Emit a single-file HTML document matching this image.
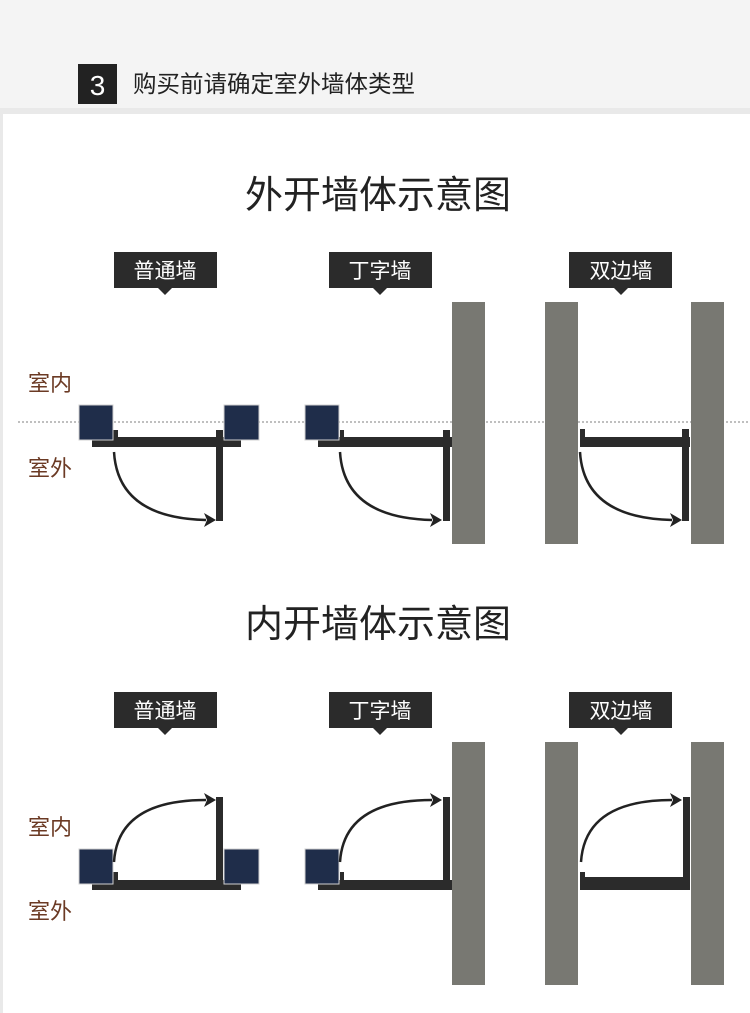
<!DOCTYPE html>
<html><head><meta charset="utf-8"><style>
body{margin:0;width:750px;height:1013px;background:#fff;overflow:hidden}
svg{display:block}
text{font-family:"Liberation Sans","Noto Sans CJK SC",sans-serif}
</style></head><body>
<svg width="750" height="1013" viewBox="0 0 750 1013">
<rect x="0" y="0" width="750" height="1013" fill="#fff"/>
<rect x="0" y="0" width="750" height="108" fill="#f4f4f4"/>
<rect x="0" y="108" width="750" height="6" fill="#e9e9e9"/>
<rect x="0" y="108" width="3" height="905" fill="#e9e9e9"/>
<rect x="78" y="64" width="39" height="40" fill="#222"/>
<text x="97.5" y="95" font-size="28" fill="#fff" text-anchor="middle">3</text>
<text x="133" y="92" font-size="23.5" fill="#222">购买前请确定室外墙体类型</text>

<text x="378" y="208" font-size="38" fill="#222" text-anchor="middle">外开墙体示意图</text>
<text x="378" y="637" font-size="38" fill="#222" text-anchor="middle">内开墙体示意图</text>

<g fill="#2b2b2b">
<rect x="114" y="252" width="103" height="36"/><polygon points="158,288 172,288 165,295"/>
<rect x="329" y="252" width="103" height="36"/><polygon points="373,288 387,288 380,295"/>
<rect x="569" y="252" width="103" height="36"/><polygon points="614,288 628,288 621,295"/>
<rect x="114" y="692" width="103" height="36"/><polygon points="158,728 172,728 165,735"/>
<rect x="329" y="692" width="103" height="36"/><polygon points="373,728 387,728 380,735"/>
<rect x="569" y="692" width="103" height="36"/><polygon points="614,728 628,728 621,735"/>
</g>
<g font-size="21" fill="#fff" text-anchor="middle">
<text x="165" y="278">普通墙</text><text x="380" y="278">丁字墙</text><text x="621" y="278">双边墙</text>
<text x="165" y="718">普通墙</text><text x="380" y="718">丁字墙</text><text x="621" y="718">双边墙</text>
</g>
<g font-size="22" fill="#6b3a24">
<text x="28" y="391">室内</text><text x="28" y="476">室外</text>
<text x="28" y="835">室内</text><text x="28" y="919">室外</text>
</g>
<line x1="18" y1="422" x2="750" y2="422" stroke="#aaa" stroke-width="1.5" stroke-dasharray="2,2"/>

<g fill="#787872">
<rect x="452" y="302" width="33" height="242"/>
<rect x="545" y="302" width="33" height="242"/>
<rect x="691" y="302" width="33" height="242"/>
<rect x="452" y="742" width="33" height="243"/>
<rect x="545" y="742" width="33" height="243"/>
<rect x="691" y="742" width="33" height="243"/>
</g>

<g fill="#2b2b2b">
<rect x="92" y="437" width="149" height="10"/><rect x="113" y="430" width="5" height="8"/><rect x="216" y="430" width="7" height="91"/>
<rect x="318" y="437" width="134" height="10"/><rect x="340" y="430" width="4" height="8"/><rect x="443" y="430" width="7" height="91"/>
<rect x="580" y="437" width="110" height="10"/><rect x="580" y="429" width="5" height="8"/><rect x="682" y="429" width="7" height="92"/>
</g>
<g fill="#1f2d4a" stroke="#d0d0d0" stroke-width="1">
<rect x="79" y="405" width="34" height="35"/><rect x="224" y="405" width="35" height="35"/>
<rect x="305" y="405" width="34" height="35"/>
</g>
<g fill="none" stroke="#222" stroke-width="2.5">
<path d="M114,452 Q118,518 206,520"/>
<path d="M340,452 Q344,518 432,520"/>
<path d="M580,452 Q584,518 672,520"/>
</g>
<g fill="#222">
<polygon points="216,520 204,513 207,520 204,527"/>
<polygon points="442,520 430,513 433,520 430,527"/>
<polygon points="682,520 670,513 673,520 670,527"/>
</g>

<g fill="#2b2b2b">
<rect x="92" y="880" width="149" height="10"/><rect x="113" y="872" width="5" height="9"/><rect x="216" y="797" width="7" height="84"/>
<rect x="318" y="880" width="134" height="10"/><rect x="340" y="872" width="4" height="9"/><rect x="443" y="797" width="7" height="84"/>
<rect x="580" y="877" width="110" height="13"/><rect x="580" y="872" width="5" height="6"/><rect x="683" y="797" width="7" height="84"/>
</g>
<g fill="#1f2d4a" stroke="#d0d0d0" stroke-width="1">
<rect x="79" y="849" width="34" height="35"/><rect x="224" y="849" width="35" height="35"/>
<rect x="305" y="849" width="34" height="35"/>
</g>
<g fill="none" stroke="#222" stroke-width="2.5">
<path d="M114,862 Q118,800 206,800"/>
<path d="M340,862 Q344,800 432,800"/>
<path d="M581,862 Q585,800 672,800"/>
</g>
<g fill="#222">
<polygon points="216,800 204,793 207,800 204,807"/>
<polygon points="442,800 430,793 433,800 430,807"/>
<polygon points="682,800 670,793 673,800 670,807"/>
</g>
</svg>
</body></html>
